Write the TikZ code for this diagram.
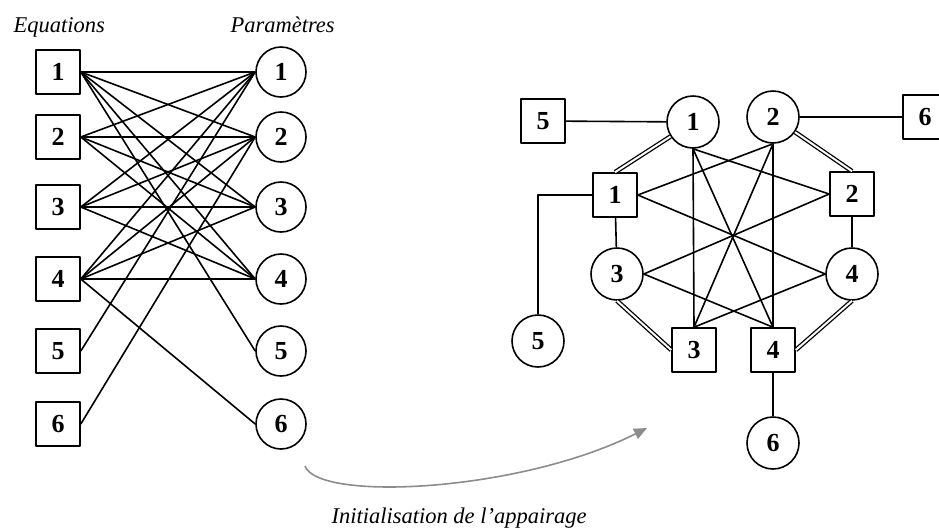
\documentclass[tikz,border=0pt]{standalone}
\usepackage{fontspec}
\setmainfont{Liberation Serif}
\usetikzlibrary{arrows.meta}

\begin{document}
\begin{tikzpicture}[x=1pt,y=-1pt,line join=round,
  eq/.style={draw,line width=1.6pt,minimum size=44pt,inner sep=0pt,font=\fontsize{26}{26}\selectfont\bfseries},
  par/.style={circle,draw,line width=1.6pt,minimum size=50pt,inner sep=0pt,font=\fontsize{26}{26}\selectfont\bfseries},
  lk/.style={line width=1.6pt},
  pair/.style={double,line width=1.3pt,double distance=2pt},
  lbl/.style={font=\fontsize{22.5}{27}\selectfont\itshape}]
  \useasboundingbox (0,0) rectangle (939,531);
  % bipartite graph
  \node[lbl,anchor=base west] (tEq) at (10,32) {Equations};
  \node[lbl,anchor=base west] (tPar) at (227,32) {Paramètres};
  \node[eq] (E1) at (58,72) {1};
  \node[eq] (E2) at (58,137) {2};
  \node[eq] (E3) at (58,207) {3};
  \node[eq] (E4) at (58,279) {4};
  \node[eq] (E5) at (58,351) {5};
  \node[eq] (E6) at (58,424) {6};
  \node[par] (P1) at (281,72) {1};
  \node[par] (P2) at (281,137) {2};
  \node[par] (P3) at (281,207) {3};
  \node[par] (P4) at (281,279) {4};
  \node[par] (P5) at (281,351) {5};
  \node[par] (P6) at (281,424) {6};
  \draw[lk] (E1.east) -- (P1.west);
  \draw[lk] (E1.east) -- (P2.west);
  \draw[lk] (E1.east) -- (P3.west);
  \draw[lk] (E1.east) -- (P4.west);
  \draw[lk] (E1.east) -- (P5.west);
  \draw[lk] (E2.east) -- (P1.west);
  \draw[lk] (E2.east) -- (P2.west);
  \draw[lk] (E2.east) -- (P3.west);
  \draw[lk] (E2.east) -- (P4.west);
  \draw[lk] (E3.east) -- (P1.west);
  \draw[lk] (E3.east) -- (P2.west);
  \draw[lk] (E3.east) -- (P3.west);
  \draw[lk] (E3.east) -- (P4.west);
  \draw[lk] (E4.east) -- (P1.west);
  \draw[lk] (E4.east) -- (P2.west);
  \draw[lk] (E4.east) -- (P3.west);
  \draw[lk] (E4.east) -- (P4.west);
  \draw[lk] (E4.east) -- (P6.west);
  \draw[lk] (E5.east) -- (P1.west);
  \draw[lk] (E6.east) -- (P2.west);
  % matched graph
  \node[eq] (rE5) at (543,121) {5};
  \node[par,minimum size=52pt] (rP1) at (693,122) {1};
  \node[par,minimum size=52pt] (rP2) at (773,117) {2};
  \node[eq] (rE6) at (925,117) {6};
  \node[eq] (rE1) at (615,195) {1};
  \node[eq] (rE2) at (852,194) {2};
  \node[par,minimum size=52pt] (rP3) at (617,274) {3};
  \node[par,minimum size=52pt] (rP4) at (852,274) {4};
  \node[par,minimum size=52pt] (rP5) at (538,341) {5};
  \node[eq] (rE3) at (694,350) {3};
  \node[eq] (rE4) at (773,350) {4};
  \node[par,minimum size=52pt] (rP6) at (773,443) {6};
  \draw[lk] (rE5) -- (rP1);
  \draw[lk] (rP2) -- (rE6);
  \draw[pair] (rP1) -- (rE1.north);
  \draw[pair] (rP2) -- (rE2.north);
  \draw[pair] (rP3.south) -- (rE3.west);
  \draw[pair] (rP4.south) -- (rE4.east);
  \draw[lk] (rE1) -- (rP3);
  \draw[lk] (rE2) -- (rP4);
  \draw[lk] (rE4) -- (rP6);
  \draw[lk] (rE1.west) -| (rP5.north);
  \draw[lk] (rP1.south) -- (rE3.north);
  \draw[lk] (rP1.south) -- (rE4.north);
  \draw[lk] (rP1.south) -- (rE2.west);
  \draw[lk] (rP2.south) -- (rE4.north);
  \draw[lk] (rP2.south) -- (rE3.north);
  \draw[lk] (rP2.south) -- (rE1.east);
  \draw[lk] (rE1.east) -- (rP4.west);
  \draw[lk] (rE2.west) -- (rP3.east);
  \draw[lk] (rP3.east) -- (rE4.north);
  \draw[lk] (rP4.west) -- (rE3.north);
  % initialisation arrow
  \coordinate (A0) at (305,466);
  \coordinate (A1) at (647,428);
  \draw[black!45,line width=1.6pt,-{Triangle[length=13pt,width=11pt]}] (A0) .. controls (318,502) and (520,492) .. (A1);
  \node[lbl,anchor=base] (tInit) at (459,523) {Initialisation de l'appairage};
\end{tikzpicture}
\end{document}
